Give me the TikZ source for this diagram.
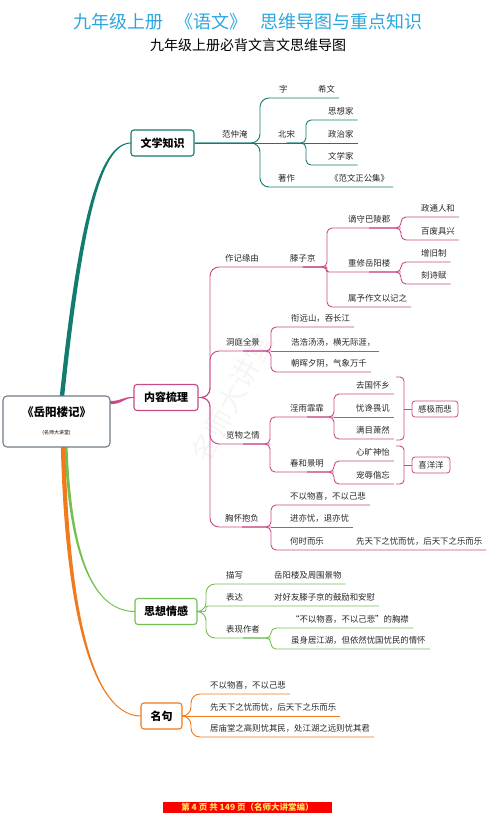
\documentclass[tikz,border=0pt]{standalone}
\usepackage{fontspec}
\setmainfont{Noto Sans CJK SC}
\usetikzlibrary{calc}
\definecolor{MapInk}{HTML}{262626}
\definecolor{MapSky}{HTML}{2CA6DF}
\definecolor{MapTeal}{HTML}{127C6E}
\definecolor{MapPink}{HTML}{C84A87}
\definecolor{MapGreen}{HTML}{74BF52}
\definecolor{MapOrange}{HTML}{F07A1C}
\definecolor{MapSlate}{HTML}{717B86}
\definecolor{MapGold}{HTML}{FFE45C}

\begin{document}
\begin{tikzpicture}[x=1pt,y=-1pt,
    lbl/.style={anchor=south west,inner xsep=4pt,xshift=-4pt,inner ysep=4.5pt,
      font=\fontsize{8.4}{9}\selectfont,text=MapInk},
    topic/.style={draw=#1,line width=1.1pt,rounded corners=3pt,fill=white,inner sep=0pt,
      minimum height=26,font=\fontsize{11}{12}\selectfont\bfseries,text=black},
    sumbox/.style={draw=MapPink,line width=0.8pt,rounded corners=3pt,fill=white,inner sep=0pt,
      minimum height=16,font=\fontsize{8.4}{9}\selectfont,text=MapInk},
    link/.style={draw=#1,line width=0.9pt,rounded corners=5pt}
  ]
  \path[use as bounding box] (0,0) rectangle (500,819);

  % titles
  \node[font=\fontsize{18}{20}\selectfont,text=MapSky] (title) at (248,22)
    {九年级上册\hspace{13pt}《语文》\hspace{13pt}思维导图与重点知识};
  \node[font=\fontsize{14}{16}\selectfont,text=black] (subtitle) at (248,45)
    {九年级上册必背文言文思维导图};
  \node[rotate=62,font=\fontsize{28}{30}\selectfont,text=black!4] (wmark) at (232,398) {名师大讲堂};

  % trunks from the root
  \fill[MapTeal] (64.2,396) .. controls (82,228) and (100,143.5) .. (131,143.5)
    -- (131,142.5) .. controls (98,142.5) and (78,225) .. (59.8,396) -- cycle;
  \fill[MapPink] (110,401) .. controls (122,401) and (122,396.9) .. (134,396.9)
    -- (134,397.9) .. controls (123,397.9) and (123,404.2) .. (110,404.2) -- cycle;
  \fill[MapGreen] (67.5,446) .. controls (71.5,560) and (95,611) .. (135,611)
    -- (135,612) .. controls (95,612) and (68.5,560) .. (64.5,446) -- cycle;
  \fill[MapOrange] (65.2,446) .. controls (70,640) and (100,715.5) .. (141,715.5)
    -- (141,716.5) .. controls (100,716.5) and (66,640) .. (60.8,446) -- cycle;

  \node[draw=MapSlate,line width=1.1pt,rounded corners=4pt,fill=white,minimum width=107,
    minimum height=51,align=center,inner sep=0pt] (root) at (56.5,421.5)
    {{\fontsize{11.5}{13}\selectfont\bfseries 《岳阳楼记》}\\[6pt]{\fontsize{5}{6}\selectfont (名师大讲堂)}};

  % 文学知识
  \node[topic=MapTeal,minimum width=63] (wxzs) at (162.5,143) {文学知识};
  \coordinate (F1) at (260,143);
  \coordinate (F2) at (306,143);
  \node[lbl] (fzy) at (222,143) {范仲淹};
  \node[lbl] (zi) at (279,98) {字};
  \node[lbl] (xiwen) at (318,98) {希文};
  \node[lbl] (beisong) at (278,143) {北宋};
  \node[lbl] (sxj) at (328,120) {思想家};
  \node[lbl] (zzj) at (328,143) {政治家};
  \node[lbl] (wxj) at (328,165) {文学家};
  \node[lbl] (zhuzuo) at (278,187) {著作};
  \node[lbl] (fwzgj) at (330,187) {《范文正公集》};
  \draw[link=MapTeal,rounded corners=9pt] (wxzs.east) -- (F1) |- (xiwen.south east);
  \draw[link=MapTeal,rounded corners=9pt] (wxzs.east) -- (F1) |- (fwzgj.south east);
  \draw[link=MapTeal] (wxzs.east) -- (zzj.south east);
  \draw[link=MapTeal] (beisong.south) -- (F2) |- (sxj.south east);
  \draw[link=MapTeal] (beisong.south) -- (F2) |- (wxj.south east);

  % 内容梳理
  \node[topic=MapPink,minimum width=64] (nrsl) at (166,397.5) {内容梳理};
  \coordinate (P0) at (210,397.5);
  \node[lbl] (zjyy) at (225,267) {作记缘由};
  \node[lbl] (tzj) at (290,267) {滕子京};
  \coordinate (F3) at (327,267);
  \node[lbl] (zsbl) at (348,228) {谪守巴陵郡};
  \coordinate (F4) at (401,228);
  \node[lbl] (ztrh) at (421,217) {政通人和};
  \node[lbl] (bfjx) at (421,240) {百废具兴};
  \node[lbl] (cxyy) at (348,272) {重修岳阳楼};
  \coordinate (F5) at (401,272);
  \node[lbl] (zjz) at (421,262) {增旧制};
  \node[lbl] (ksf) at (421,284) {刻诗赋};
  \node[lbl] (syzw) at (348,307) {属予作文以记之};
  \draw[link=MapPink,rounded corners=9pt] (nrsl.east) -- (P0) |- (F3);
  \draw[link=MapPink] (tzj.south) -- (F3) |- (F4);
  \draw[link=MapPink,rounded corners=2pt] (tzj.south) -- (F3) |- (F5);
  \draw[link=MapPink] (tzj.south) -- (F3) |- (syzw.south east);
  \draw[link=MapPink] (zsbl.south) -- (F4) |- (ztrh.south east);
  \draw[link=MapPink] (zsbl.south) -- (F4) |- (bfjx.south east);
  \draw[link=MapPink] (cxyy.south) -- (F5) |- (zjz.south east);
  \draw[link=MapPink] (cxyy.south) -- (F5) |- (ksf.south east);

  \node[lbl] (dtqj) at (226,351) {洞庭全景};
  \coordinate (F6) at (271,351);
  \node[lbl] (xys) at (291,327) {衔远山，吞长江};
  \node[lbl] (hhss) at (291,351) {浩浩汤汤，横无际涯，};
  \node[lbl] (zhxy) at (291,372) {朝晖夕阴，气象万千};
  \draw[link=MapPink,rounded corners=9pt] (nrsl.east) -- (P0) |- (F6);
  \draw[link=MapPink] (dtqj.south) -- (F6) |- (xys.south east);
  \draw[link=MapPink] (F6) -- (hhss.south east);
  \draw[link=MapPink] (dtqj.south) -- (F6) |- (zhxy.south east);

  \node[lbl] (lwzq) at (226,444) {览物之情};
  \coordinate (F7) at (270,444);
  \node[lbl] (yyff) at (290,417) {淫雨霏霏};
  \coordinate (F8) at (334,417);
  \node[lbl] (qghx) at (356,394) {去国怀乡};
  \node[lbl] (ycwj) at (356,417) {忧谗畏讥};
  \node[lbl] (mmxr) at (356,439) {满目萧然};
  \node[lbl] (chjm) at (290,472) {春和景明};
  \coordinate (F9) at (334,472);
  \node[lbl] (xksy) at (356,461) {心旷神怡};
  \node[lbl] (crxw) at (356,484) {宠辱偕忘};
  \draw[link=MapPink,rounded corners=9pt] (nrsl.east) -- (P0) |- (F7);
  \draw[link=MapPink] (lwzq.south) -- (F7) |- (F8);
  \draw[link=MapPink] (lwzq.south) -- (F7) |- (F9);
  \draw[link=MapPink] (yyff.south) -- (F8) |- (qghx.south east);
  \draw[link=MapPink] (F8) -- (ycwj.south east);
  \draw[link=MapPink] (yyff.south) -- (F8) |- (mmxr.south east);
  \draw[link=MapPink] (chjm.south) -- (F9) |- (xksy.south east);
  \draw[link=MapPink] (chjm.south) -- (F9) |- (crxw.south east);

  % summaries
  \coordinate (B1) at (396,377);
  \coordinate (B2) at (396,446);
  \node[sumbox,minimum width=46] (gjeb) at (435,409) {感极而悲};
  \node[sumbox,minimum width=38] (xyy) at (431,465) {喜洋洋};
  \draw[link=MapPink,rounded corners=4pt] (B1) -- ++(8,0) -- ++(0,63) -- ++(-8,0);
  \draw[link=MapPink] (gjeb.west) -- ++(-8,0);
  \draw[link=MapPink,rounded corners=4pt] (B2) -- ++(8,0) -- ++(0,38) -- ++(-8,0);
  \draw[link=MapPink] (xyy.west) -- ++(-8,0);

  \node[lbl] (xhbf) at (225,527) {胸怀抱负};
  \coordinate (F10) at (271,527);
  \node[lbl] (bywx) at (290,505) {不以物喜，不以己悲};
  \node[lbl] (jyy) at (290,527) {进亦忧，退亦忧};
  \node[lbl] (hsel) at (290,550) {何时而乐};
  \node[lbl] (xtx) at (356,550) {先天下之忧而忧，后天下之乐而乐};
  \draw[link=MapPink,rounded corners=9pt] (nrsl.east) -- (P0) |- (F10);
  \draw[link=MapPink] (xhbf.south) -- (F10) |- (bywx.south east);
  \draw[link=MapPink] (F10) -- (jyy.south east);
  \draw[link=MapPink] (xhbf.south) -- (F10) |- (xtx.south east);

  % 思想情感
  \node[topic=MapGreen,minimum width=62] (sxqg) at (166,611.5) {思想情感};
  \coordinate (P1) at (206,611.5);
  \node[lbl] (mx) at (226,584) {描写};
  \node[lbl] (yylj) at (274,584) {岳阳楼及周围景物};
  \node[lbl] (bd) at (226,606) {表达};
  \node[lbl] (dhy) at (274,606) {对好友滕子京的鼓励和安慰};
  \node[lbl] (bxzz) at (226,638) {表现作者};
  \coordinate (F11) at (271,638);
  \node[lbl] (bywq) at (291,628) {“不以物喜，不以己悲”的胸襟};
  \node[lbl] (ssjj) at (291,649) {虽身居江湖，但依然忧国忧民的情怀};
  \draw[link=MapGreen,rounded corners=9pt] (sxqg.east) -- (P1) |- (yylj.south east);
  \draw[link=MapGreen,rounded corners=2pt] (sxqg.east) -- (P1) |- (dhy.south east);
  \draw[link=MapGreen,rounded corners=9pt] (sxqg.east) -- (P1) |- (F11);
  \draw[link=MapGreen] (bxzz.south) -- (F11) |- (bywq.south east);
  \draw[link=MapGreen] (bxzz.south) -- (F11) |- (ssjj.south east);

  % 名句
  \node[topic=MapOrange,minimum width=41] (mj) at (161.5,716) {名句};
  \coordinate (P2) at (191,716);
  \node[lbl] (mj1) at (210,694) {不以物喜，不以己悲};
  \node[lbl] (mj2) at (210,716) {先天下之忧而忧，后天下之乐而乐};
  \node[lbl] (mj3) at (210,737) {居庙堂之高则忧其民，处江湖之远则忧其君};
  \draw[link=MapOrange,rounded corners=9pt] (mj.east) -- (P2) |- (mj1.south east);
  \draw[link=MapOrange] (mj.east) -- (mj2.south east);
  \draw[link=MapOrange,rounded corners=9pt] (mj.east) -- (P2) |- (mj3.south east);

  % footer
  \node[fill=red,text=MapGold,minimum width=169,minimum height=11,inner sep=0pt,
    font=\fontsize{8.5}{9}\selectfont\bfseries] (footer) at (247.5,807.5)
    {第 4 页 共 149 页（名师大讲堂编）};
\end{tikzpicture}
\end{document}
